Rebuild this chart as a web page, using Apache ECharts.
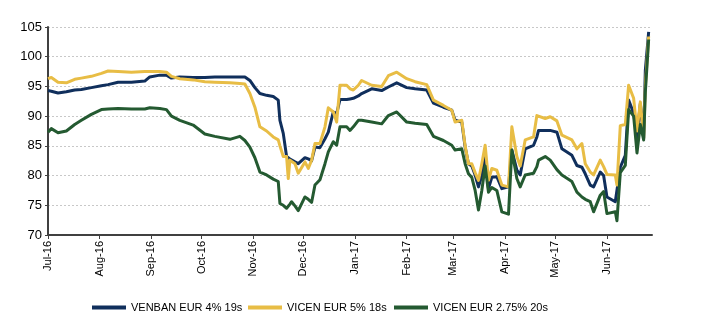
<!DOCTYPE html>
<html>
<head>
<meta charset="utf-8">
<script src="https://cdn.jsdelivr.net/npm/echarts@6/dist/echarts.min.js"></script>
<style>
html,body{margin:0;padding:0;background:#fff;}
#chart{width:719px;height:327px;}
</style>
</head>
<body>
<div id="chart"></div>
<script>
const dates = [
'2016-07-01','2016-07-03','2016-07-07','2016-07-12','2016-07-17','2016-07-21','2016-07-27',
'2016-08-02','2016-08-06','2016-08-12','2016-08-20','2016-08-28','2016-08-31',
'2016-09-06','2016-09-10','2016-09-13','2016-09-18','2016-09-26',
'2016-10-03','2016-10-09','2016-10-18','2016-10-24','2016-10-27','2016-10-30',
'2016-11-02','2016-11-05','2016-11-09','2016-11-13','2016-11-16','2016-11-17','2016-11-19','2016-11-21','2016-11-22','2016-11-23','2016-11-24','2016-11-26','2016-11-28',
'2016-12-02','2016-12-04','2016-12-06','2016-12-08','2016-12-11','2016-12-14','2016-12-16','2016-12-19','2016-12-21','2016-12-23','2016-12-27','2016-12-29','2016-12-31',
'2017-01-03','2017-01-05','2017-01-11','2017-01-17','2017-01-21','2017-01-26',
'2017-02-01','2017-02-06','2017-02-13','2017-02-17','2017-02-23','2017-02-28',
'2017-03-02','2017-03-06','2017-03-08','2017-03-10','2017-03-12','2017-03-14','2017-03-16','2017-03-18','2017-03-20','2017-03-22','2017-03-24','2017-03-27','2017-03-30',
'2017-04-03','2017-04-05','2017-04-08','2017-04-10','2017-04-13','2017-04-18','2017-04-20','2017-04-21','2017-04-25','2017-04-28',
'2017-05-02','2017-05-05','2017-05-11','2017-05-14','2017-05-17','2017-05-19','2017-05-22','2017-05-24','2017-05-28','2017-05-30',
'2017-06-01','2017-06-06','2017-06-07','2017-06-09','2017-06-12','2017-06-14','2017-06-17','2017-06-19','2017-06-21','2017-06-23','2017-06-24','2017-06-26'
];
const venban = [
94.3,94.2,93.9,94.1,94.4,94.5,94.8,
95.1,95.3,95.7,95.7,95.9,96.6,
96.9,96.9,96.4,96.6,96.5,
96.5,96.6,96.6,96.6,96.6,96.0,
94.8,93.8,93.5,93.3,92.7,89.3,87.1,83.2,83.0,82.8,82.6,82.3,82.0,
83.0,82.8,82.5,84.8,84.7,86.2,87.3,90.7,90.4,92.8,92.8,92.9,93.0,
93.4,93.8,94.6,94.3,94.9,95.6,
94.8,94.6,94.4,92.2,91.5,91.0,
89.3,89.0,84.8,82.0,81.6,80.1,78.1,80.0,83.2,77.8,79.7,79.8,77.8,
78.1,84.3,80.9,80.1,84.5,85.1,86.5,87.6,87.6,87.6,
87.3,84.5,83.4,81.7,81.4,80.3,78.4,78.1,80.6,80.0,
76.4,75.6,75.7,81.4,83.4,92.7,90.5,86.5,92.1,86.3,97.7,104.2
];
const vicen5 = [
96.3,96.5,95.7,95.6,96.2,96.4,96.7,
97.2,97.6,97.5,97.4,97.5,97.5,
97.5,97.4,96.7,96.3,96.1,
95.8,95.7,95.6,95.5,95.4,93.8,
91.5,88.2,87.5,86.5,86.0,85.0,83.2,83.2,79.5,82.6,82.3,82.0,80.4,
82.3,81.2,82.6,85.4,85.4,88.2,91.4,90.7,89.0,95.2,95.2,94.6,94.4,
95.2,96.0,95.2,95.0,96.8,97.4,
96.3,95.8,95.3,92.7,91.8,91.0,
89.0,89.3,85.0,82.0,82.0,80.5,79.2,82.0,85.1,79.2,81.2,80.9,78.4,
78.1,88.2,83.2,81.6,86.0,86.5,90.1,89.8,89.6,89.9,
89.2,86.8,86.0,84.5,85.4,82.0,80.6,80.1,82.6,81.5,
80.2,80.1,78.4,88.4,88.6,95.2,93.0,87.5,92.4,86.3,95.0,103.4
];
const vicen275 = [
87.3,87.9,87.2,87.5,88.6,89.3,90.3,
91.1,91.2,91.3,91.2,91.2,91.4,
91.3,91.1,90.0,89.3,88.5,
87.0,86.6,86.1,86.6,85.9,84.8,
83.0,80.6,80.1,79.4,79.0,75.3,75.0,74.5,74.8,75.2,75.6,74.9,74.1,
76.4,76.0,75.5,78.4,79.3,82.0,84.0,85.7,85.1,88.2,88.2,87.6,88.2,
89.3,89.3,89.0,88.7,90.1,90.7,
89.0,88.8,88.6,86.6,85.9,85.1,
84.3,84.5,82.0,80.3,79.7,77.5,74.2,77.5,81.6,77.2,78.0,77.5,73.9,
73.5,84.3,79.5,78.1,80.1,80.4,81.5,82.6,83.2,82.6,
81.0,80.1,79.0,77.2,76.4,76.0,75.6,73.9,76.7,77.3,
73.6,73.9,72.4,80.5,81.7,91.1,90.0,83.8,88.6,86.0,94.0,102.9
];
const seriesNames = ['VENBAN EUR 4% 19s','VICEN EUR 5% 18s','VICEN EUR 2.75% 20s'];
const monthTicks = ['2016-07-01','2016-08-01','2016-09-01','2016-10-01','2016-11-01','2016-12-01',
  '2017-01-01','2017-02-01','2017-03-01','2017-04-01','2017-05-01','2017-06-01'];
const monthNames = ['Jan','Feb','Mar','Apr','May','Jun','Jul','Aug','Sep','Oct','Nov','Dec'];
const yTicks = {min:70, max:105, step:5};
const xRange = ['2016-07-01','2017-06-28'];

const ts = s => Date.parse(s + 'T00:00:00Z');
const pairs = vals => dates.map((d,i)=>[ts(d), vals[i]]);
const colors = ['#102f5c','#e8bd45','#245a31'];
const seriesVals = [venban, vicen5, vicen275];

const chart = echarts.init(document.getElementById('chart'), null, {renderer:'canvas'});
const legendLefts = [87, 243, 389];
chart.setOption({
  animation:false,
  backgroundColor:'#fff',
  grid:{left:48,right:67,top:27,bottom:92,containLabel:false},
  legend: seriesNames.map((n,i)=>({
    data:[{name:n, icon:'rect'}],
    left:legendLefts[i], top:297,
    itemWidth:34, itemHeight:4,
    textStyle:{fontFamily:'Liberation Sans, Arial',fontSize:11,color:'#000'}
  })),
  xAxis:{
    type:'value',
    min:ts(xRange[0]), max:ts(xRange[1]),
    axisLine:{show:true,lineStyle:{color:'#404040',width:2}},
    axisTick:{show:true,length:4,customValues:monthTicks.map(ts),lineStyle:{color:'#404040',width:1}},
    axisLabel:{
      customValues:monthTicks.map(ts),
      rotate:90, margin:6,
      fontFamily:'Liberation Sans, Arial', fontSize:11, color:'#000',
      formatter:v=>{const d=new Date(v);return monthNames[d.getUTCMonth()]+'-'+String(d.getUTCFullYear()).slice(2);}
    },
    splitLine:{show:false}
  },
  yAxis:{
    type:'value', min:yTicks.min, max:yTicks.max, interval:yTicks.step,
    axisLine:{show:true,lineStyle:{color:'#404040',width:2}},
    axisTick:{show:true,length:3,lineStyle:{color:'#404040'}},
    axisLabel:{margin:6,fontFamily:'Liberation Sans, Arial',fontSize:13,color:'#000'},
    splitLine:{show:true,lineStyle:{color:'#c8c8c8',type:[2,2],width:1}}
  },
  series: seriesNames.map((n,i)=>({
    name:n, type:'line', data:pairs(seriesVals[i]),
    showSymbol:false, symbol:'none',
    lineStyle:{color:colors[i],width:3,join:'round'},
    itemStyle:{color:colors[i]}
  }))
});
</script>
</body>
</html>
